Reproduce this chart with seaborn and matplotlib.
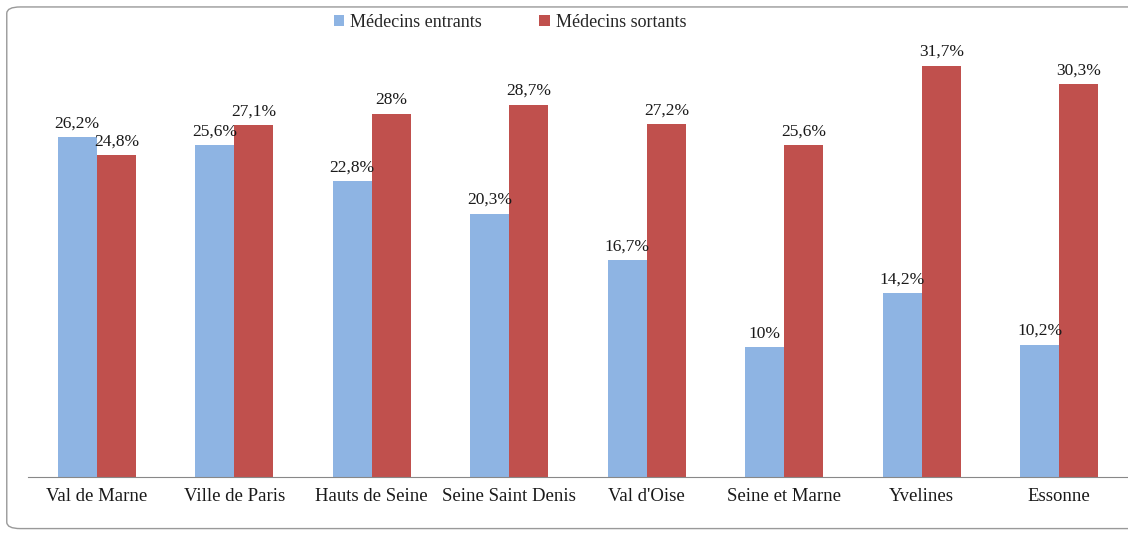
import matplotlib
matplotlib.use("Agg")
import matplotlib.pyplot as plt
import seaborn as sns
import pandas as pd
from matplotlib.patches import FancyBboxPatch

departements = ["Val de Marne", "Ville de Paris", "Hauts de Seine", "Seine Saint Denis",
                "Val d'Oise", "Seine et Marne", "Yvelines", "Essonne"]
entrants = [26.2, 25.6, 22.8, 20.3, 16.7, 10.0, 14.2, 10.2]
sortants = [24.8, 27.1, 28.0, 28.7, 27.2, 25.6, 31.7, 30.3]
series = ["Médecins entrants", "Médecins sortants"]
colors = ["#8EB4E3", "#C0504D"]

df = pd.DataFrame({
    "dep": departements * 2,
    "serie": [series[0]] * len(departements) + [series[1]] * len(departements),
    "val": entrants + sortants,
})

sns.set_style("white")
plt.rcParams["font.family"] = ["Liberation Serif", "DejaVu Serif"]

fig = plt.figure(figsize=(11.28, 5.35), dpi=100)
ax = fig.add_axes([0.0248, 0.1084, 0.9752, 0.8168])

sns.barplot(data=df, x="dep", y="val", hue="serie", palette=colors, width=0.57,
            saturation=1, ax=ax, legend=True, linewidth=0, edgecolor="none")

ax.set_ylim(0, 33.67)
ax.set_xlim(-0.5, 7.5)

def fmt(v):
    s = f"{v:.1f}".replace(".", ",")
    if s.endswith(",0"):
        s = s[:-2]
    return s + "%"

for cont in ax.containers:
    for bar in cont:
        h = bar.get_height()
        ax.annotate(fmt(h), (bar.get_x() + bar.get_width() / 2, h),
                    xytext=(0, 4), textcoords="offset points",
                    ha="center", va="bottom", fontsize=12.5, color="#1a1a1a")

for s in ["top", "right", "left"]:
    ax.spines[s].set_visible(False)
ax.spines["bottom"].set_color("#888888")
ax.set_yticks([])
ax.set_xlabel("")
ax.set_ylabel("")

ax.set_xticks([i + 0.5 for i in range(-1, len(departements))])
ax.set_xticklabels([])
ax.tick_params(axis="x", which="major", direction="out", length=6, color="#888888")
ax.set_xticks(range(len(departements)), minor=True)
ax.set_xticklabels(departements, minor=True, fontsize=13.5, color="#1a1a1a")
ax.tick_params(axis="x", which="minor", length=0, pad=8)

leg = ax.legend(loc="center", bbox_to_anchor=(0.438, 1.041), ncol=2, frameon=False,
                fontsize=13, handlelength=0.6, handleheight=0.6, columnspacing=3.2,
                handletextpad=0.3)

frame = FancyBboxPatch((0.006, 0.012), 1.1, 0.975, boxstyle="round,pad=0,rounding_size=0.012",
                       transform=fig.transFigure, fill=False, edgecolor="#999999", linewidth=1)
fig.patches.append(frame)

fig.savefig("out.png", dpi=100)
